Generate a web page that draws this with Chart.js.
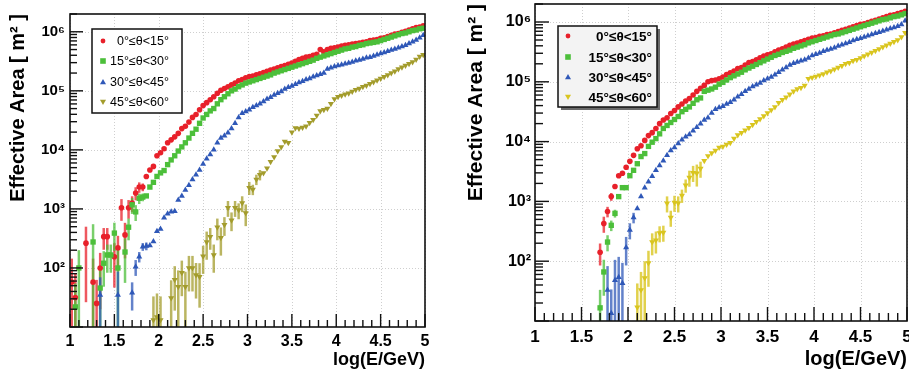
<!DOCTYPE html>
<html>
<head>
<meta charset="utf-8">
<script src="https://cdn.jsdelivr.net/npm/chart.js@4.4.1/dist/chart.umd.min.js"></script>
<style>
html, body { margin: 0; padding: 0; background: #fff; }
#wrap { position: relative; width: 909px; height: 376px; overflow: hidden; }
.panel { position: absolute; top: 0; height: 376px; }
#pl { left: 0; width: 440px; }
#pr { left: 455px; width: 454px; }
</style>
</head>
<body>
<div id="wrap">
  <div class="panel" id="pl"><canvas id="cl"></canvas></div>
  <div class="panel" id="pr"><canvas id="cr"></canvas></div>
</div>
<script>
// bin centres, log10(E/GeV)
const logE = [1.02,1.06,1.10,1.14,1.18,1.22,1.26,1.30,1.34,1.38,
  1.42,1.46,1.50,1.54,1.58,1.62,1.66,1.70,1.74,1.78,
  1.82,1.86,1.90,1.94,1.98,2.02,2.06,2.10,2.14,2.18,
  2.22,2.26,2.30,2.34,2.38,2.42,2.46,2.50,2.54,2.58,
  2.62,2.66,2.70,2.74,2.78,2.82,2.86,2.90,2.94,2.98,
  3.02,3.06,3.10,3.14,3.18,3.22,3.26,3.30,3.34,3.38,
  3.42,3.46,3.50,3.54,3.58,3.62,3.66,3.70,3.74,3.78,
  3.82,3.86,3.90,3.94,3.98,4.02,4.06,4.10,4.14,4.18,
  4.22,4.26,4.30,4.34,4.38,4.42,4.46,4.50,4.54,4.58,
  4.62,4.66,4.70,4.74,4.78,4.82,4.86,4.90,4.94,4.98];

const seriesNames = ['0°≤θ<15°', '15°≤θ<30°', '30°≤θ<45°', '45°≤θ<60°'];
const yDecades = [1e2, 1e3, 1e4, 1e5, 1e6];
const xTitle = 'log(E/GeV)';
const yTitle = 'Effective Area [ m² ]';

// ---- left panel: log10(effective area / m2) per bin (null = no point)
const leftRed = [1.76,1.50,null,null,2.42,null,1.76,1.40,2.00,2.53,
  2.53,null,2.19,2.34,3.02,2.56,3.02,3.10,3.27,3.37,
  3.37,3.55,3.66,3.72,3.90,3.95,4.02,4.12,4.17,4.22,
  4.28,4.36,4.40,4.47,4.55,4.60,4.68,4.75,4.80,4.85,
  4.90,4.96,5.01,5.04,5.07,5.10,5.13,5.17,5.19,5.22,
  5.24,5.25,5.27,5.29,5.31,5.33,5.35,5.37,5.39,5.41,
  5.43,5.45,5.47,5.50,5.53,5.55,5.57,5.58,5.60,5.62,
  5.70,5.66,5.70,5.72,5.73,5.74,5.76,5.77,5.78,5.79,
  5.80,5.81,5.82,5.83,5.85,5.86,5.87,5.89,5.90,5.92,
  5.94,5.96,5.97,5.99,6.01,6.03,6.05,6.07,6.08,6.10];
const leftGreen = [null,1.34,2.00,null,null,null,2.44,null,1.66,2.08,
  2.22,2.22,2.59,2.00,null,2.27,2.69,3.07,2.95,3.18,
  3.20,3.22,3.37,3.45,3.55,3.61,3.65,3.75,3.83,3.90,
  3.98,4.05,4.12,4.20,4.28,4.35,4.45,4.54,4.60,4.66,
  4.70,4.78,4.85,4.90,4.95,5.00,5.03,5.07,5.10,5.13,
  5.15,5.17,5.19,5.21,5.23,5.25,5.27,5.30,5.32,5.34,
  5.36,5.38,5.40,5.42,5.44,5.46,5.48,5.50,5.52,5.55,
  5.57,5.59,5.61,5.63,5.65,5.67,5.69,5.71,5.72,5.74,
  5.75,5.77,5.78,5.80,5.81,5.82,5.83,5.85,5.87,5.89,
  5.91,5.93,5.95,5.97,5.98,6.00,6.02,6.03,6.05,6.06];
const leftBlue = [null,null,null,null,null,null,null,null,1.54,null,
  null,null,null,1.54,null,null,null,1.58,2.02,2.19,
  2.36,2.37,2.38,2.45,2.62,2.66,2.85,2.92,2.95,2.96,
  3.15,3.22,3.32,3.40,3.50,3.58,3.66,3.76,3.85,3.92,
  4.00,4.12,4.20,4.24,4.29,4.36,4.45,4.55,4.62,4.65,
  4.68,4.72,4.75,4.78,4.82,4.86,4.89,4.93,4.96,4.99,
  5.03,5.06,5.08,5.11,5.14,5.16,5.19,5.21,5.24,5.26,
  5.28,5.30,5.37,5.39,5.41,5.43,5.44,5.46,5.47,5.49,
  5.51,5.52,5.54,5.56,5.57,5.59,5.61,5.63,5.65,5.67,
  5.69,5.71,5.73,5.75,5.77,5.80,5.83,5.86,5.90,5.94];
const leftYellow = [null,null,null,null,null,null,null,null,null,null,
  null,null,null,null,null,null,null,null,null,null,
  null,null,null,1.12,1.17,1.12,null,null,1.49,1.80,
  1.68,1.92,1.68,2.00,2.00,1.88,1.85,2.20,2.44,2.53,
  2.22,2.69,2.51,2.73,3.02,2.81,3.02,2.98,3.10,2.93,
  3.36,3.33,3.50,3.58,3.61,3.69,3.80,3.88,3.98,4.05,
  4.14,4.12,4.30,4.37,4.36,4.38,4.40,4.46,4.51,4.58,
  4.66,4.68,4.70,4.78,4.86,4.90,4.92,4.94,4.96,4.99,
  5.02,5.04,5.07,5.09,5.12,5.15,5.18,5.21,5.24,5.27,
  5.30,5.33,5.37,5.40,5.43,5.46,5.49,5.53,5.58,5.61];
// relative errors (leading bins only)
const leftRedErr = [1.5,1.5,0,0,0.9,0,1.5,1.5,0.8,0.4,
  0.4,0,0.7,0.6,0.4,0.6,0.35,0.3,0.25,0.2, 0.15];
const leftGreenErr = [0,1.5,1.0,0,0,0,1.0,0,1.2,0.6,
  0.5,0.5,0.5,1.0,0,0.7,0.4,0.3,0.3,0.2, 0.15];
const leftBlueErr = [0,0,0,0,0,0,0,0,1.0,0,
  0,0,0,1.5,0,0,0,0.5,0.3,0.2, 0.15,0.15];
const leftYellowErr = [0,0,0,0,0,0,0,0,0,0, 0,0,0,0,0,0,0,0,0,0,
  0,0,0,1.5,1.5,1.5,0,0,1.0,0.7,
  0.9,0.6,0.8,0.6,0.6,0.6,0.7,0.5,0.5,0.4,
  0.5,0.4,0.5,0.35,0.3,0.35,0.3,0.3,0.3,0.4,
  0.25,0.2,0.2,0.2];

// ---- right panel
const rightRed = [null,null,null,null,null,null,null,null,null,null,
  null,null,null,null,null,null,null,2.15,2.63,2.83,
  3.08,3.25,3.43,3.47,3.57,3.67,3.77,3.88,3.93,4.02,
  4.10,4.15,4.22,4.30,4.36,4.40,4.47,4.52,4.58,4.63,
  4.68,4.72,4.78,4.84,4.89,4.94,5.00,5.02,5.03,5.05,
  5.08,5.12,5.15,5.18,5.22,5.24,5.28,5.32,5.34,5.37,
  5.40,5.43,5.45,5.47,5.50,5.53,5.55,5.58,5.61,5.63,
  5.65,5.67,5.69,5.71,5.73,5.74,5.76,5.77,5.79,5.80,
  5.82,5.84,5.86,5.88,5.90,5.92,5.94,5.96,5.97,5.99,
  6.01,6.03,6.05,6.07,6.09,6.11,6.12,6.14,6.16,6.18];
const rightGreen = [null,null,null,null,null,null,null,null,null,null,
  null,null,null,null,null,null,null,1.22,1.82,2.32,
  2.60,2.80,3.08,3.23,3.23,3.43,3.52,3.63,3.75,3.80,
  3.92,3.99,4.05,4.13,4.22,4.27,4.32,4.37,4.42,4.50,
  4.54,4.58,4.64,4.70,4.73,4.84,4.86,4.88,4.91,4.96,
  4.99,5.03,5.07,5.10,5.13,5.16,5.20,5.23,5.26,5.29,
  5.32,5.35,5.38,5.41,5.44,5.46,5.49,5.51,5.53,5.56,
  5.58,5.60,5.62,5.65,5.67,5.69,5.71,5.73,5.75,5.77,
  5.79,5.80,5.82,5.84,5.86,5.88,5.90,5.92,5.94,5.96,
  5.98,6.00,6.02,6.04,6.05,6.07,6.09,6.10,6.12,6.14];
const rightBlue = [null,null,null,null,null,null,null,null,null,null,
  null,null,null,null,null,null,null,null,null,1.52,
  1.13,1.68,1.73,1.63,2.23,2.52,2.73,2.88,3.08,3.23,
  3.33,3.42,3.52,3.60,3.68,3.77,3.85,3.90,3.97,4.03,
  4.08,4.12,4.18,4.24,4.30,4.36,4.40,4.48,4.54,4.57,
  4.59,4.63,4.66,4.70,4.75,4.79,4.84,4.88,4.92,4.95,
  4.98,5.02,5.05,5.08,5.12,5.16,5.20,5.24,5.28,5.31,
  5.33,5.35,5.37,5.40,5.44,5.46,5.48,5.51,5.53,5.55,
  5.57,5.60,5.62,5.64,5.66,5.69,5.71,5.73,5.75,5.77,
  5.79,5.81,5.83,5.85,5.87,5.89,5.91,5.93,5.96,6.02];
const rightYellow = [null,null,null,null,null,null,null,null,null,null,
  null,null,null,null,null,null,null,null,null,null,
  null,null,null,null,null,null,null,1.23,1.52,1.72,
  1.97,2.32,2.35,2.47,2.48,2.97,2.73,2.98,2.97,3.10,
  3.27,3.40,3.48,3.47,3.55,3.68,3.76,3.81,3.85,3.90,
  3.92,3.95,3.98,4.05,4.11,4.15,4.19,4.23,4.28,4.33,
  4.38,4.43,4.48,4.53,4.58,4.65,4.70,4.74,4.79,4.84,
  4.88,4.90,4.94,5.05,5.07,5.09,5.11,5.13,5.16,5.18,
  5.21,5.24,5.27,5.30,5.32,5.35,5.37,5.40,5.43,5.46,
  5.49,5.52,5.55,5.58,5.61,5.64,5.67,5.70,5.75,5.82];
const rightRedErr = [0,0,0,0,0,0,0,0,0,0, 0,0,0,0,0,0,0,0.4,0.3,0.2, 0.15];
const rightGreenErr = [0,0,0,0,0,0,0,0,0,0, 0,0,0,0,0,0,0,1.0,0.6,0.3, 0.2,0.15];
const rightBlueErr = [0,0,0,0,0,0,0,0,0,0, 0,0,0,0,0,0,0,0,0,1.5,
  1.5,1.2,1.2,1.2,0.5,0.3,0.2];
const rightYellowErr = [0,0,0,0,0,0,0,0,0,0, 0,0,0,0,0,0,0,0,0,0,
  0,0,0,0,0,0,0,1.5,1.0,0.9,
  0.6,0.4,0.4,0.3,0.3,0.3,0.3,0.3,0.3,0.25,
  0.25,0.3,0.3,0.4,0.3];

const FONT = '"Liberation Sans", Arial, sans-serif';
const sup = {1: '¹', 2: '²', 3: '³', 4: '⁴', 5: '⁵', 6: '⁶'};

function toPoints(logs, errs) {
  const pts = [];
  logs.forEach((v, i) => {
    if (v === null) return;
    pts.push({x: logE[i], y: Math.pow(10, v), e: errs[i] || 0});
  });
  return pts;
}

function makeSets(list, sizes) {
  const styles = ['circle', 'rect', 'triangle', 'triangleDown'];
  return list.map((s, i) => ({
    label: seriesNames[i],
    data: toPoints(s.logs, s.errs),
    mark: styles[i],
    pointStyle: styles[i] === 'triangleDown' ? 'triangle' : styles[i],
    rotation: styles[i] === 'triangleDown' ? 180 : 0,
    pointRadius: sizes[i],
    pointHoverRadius: sizes[i],
    pointBorderWidth: 0,
    backgroundColor: s.color,
    borderColor: s.color,
    errColor: s.errColor,
    showLine: false,
    order: 4 - i,
  }));
}

function marker(ctx, style, cx, cy, r, color) {
  ctx.fillStyle = color;
  ctx.beginPath();
  if (style === 'circle') {
    ctx.arc(cx, cy, r, 0, 2 * Math.PI);
  } else if (style === 'rect') {
    ctx.rect(cx - r, cy - r, 2 * r, 2 * r);
  } else {
    const s = style === 'triangle' ? 1 : -1;
    ctx.moveTo(cx, cy - s * r);
    ctx.lineTo(cx + r, cy + s * r * 0.75);
    ctx.lineTo(cx - r, cy + s * r * 0.75);
    ctx.closePath();
  }
  ctx.fill();
}

// ROOT-like frame: dotted grid, error bars, inner ticks, boxed legend
const rootFrame = {
  id: 'rootFrame',
  beforeDatasetsDraw(chart, args, o) {
    const {ctx, chartArea: a, scales: {x, y}} = chart;
    ctx.save();
    ctx.strokeStyle = '#cfcfcf';
    ctx.lineWidth = 1;
    ctx.setLineDash([1, 2]);
    x.ticks.forEach(t => {
      const px = Math.round(x.getPixelForValue(t.value)) + 0.5;
      ctx.beginPath(); ctx.moveTo(px, a.top); ctx.lineTo(px, a.bottom); ctx.stroke();
    });
    y.ticks.forEach(t => {
      const py = Math.round(y.getPixelForValue(t.value)) + 0.5;
      ctx.beginPath(); ctx.moveTo(a.left, py); ctx.lineTo(a.right, py); ctx.stroke();
    });
    ctx.setLineDash([]);
    ctx.beginPath();
    ctx.rect(a.left, a.top, a.right - a.left, a.bottom - a.top);
    ctx.clip();
    chart.data.datasets.forEach(ds => {
      ctx.strokeStyle = ds.errColor;
      ctx.lineWidth = o.errWidth;
      ds.data.forEach(p => {
        if (!p.e) return;
        const px = x.getPixelForValue(p.x);
        const hi = y.getPixelForValue(p.y * (1 + p.e));
        const lo = p.e >= 1 ? a.bottom : y.getPixelForValue(p.y * (1 - p.e));
        ctx.beginPath(); ctx.moveTo(px, hi); ctx.lineTo(px, lo); ctx.stroke();
      });
    });
    ctx.restore();
  },
  afterDraw(chart, args, o) {
    const {ctx, chartArea: a, scales: {x, y}} = chart;
    ctx.save();
    ctx.strokeStyle = '#111';
    ctx.lineWidth = 1.6;
    ctx.strokeRect(a.left, a.top, a.right - a.left, a.bottom - a.top);
    // x ticks (inside, from the bottom)
    ctx.lineWidth = 1.4;
    x.ticks.forEach(t => {
      for (let m = 0; m < 5; m++) {
        const v = t.value + m * 0.1;
        if (v > x.max + 1e-9) break;
        const px = x.getPixelForValue(v);
        const len = m === 0 ? o.majorLen : o.minorLen;
        ctx.beginPath(); ctx.moveTo(px, a.bottom); ctx.lineTo(px, a.bottom - len); ctx.stroke();
      }
    });
    // y ticks (inside, from the left)
    for (let d = 1; d <= 6; d++) {
      for (let k = 1; k <= 9; k++) {
        const v = k * Math.pow(10, d);
        if (v > y.max) break;
        const py = y.getPixelForValue(v);
        const len = k === 1 ? o.majorLen : o.minorLen;
        ctx.beginPath(); ctx.moveTo(a.left, py); ctx.lineTo(a.left + len, py); ctx.stroke();
      }
    }
    // legend box
    const L = o.legend;
    if (L.shadow) {
      ctx.fillStyle = '#6a6a6a';
      ctx.fillRect(L.x + 3, L.y + 3, L.w, L.h);
    }
    ctx.fillStyle = L.bg;
    ctx.fillRect(L.x, L.y, L.w, L.h);
    ctx.strokeStyle = '#111';
    ctx.lineWidth = 1.5;
    ctx.strokeRect(L.x, L.y, L.w, L.h);
    ctx.font = L.font;
    ctx.textAlign = 'right';
    ctx.textBaseline = 'middle';
    chart.data.datasets.forEach((ds, i) => {
      marker(ctx, ds.mark, L.markX, L.rows[i], L.markR[i], ds.backgroundColor);
      ctx.fillStyle = '#000';
      ctx.fillText(ds.label, L.textRight, L.rows[i] + 1);
    });
    ctx.restore();
  }
};

function makeChart(id, p) {
  return new Chart(document.getElementById(id), {
    type: 'scatter',
    data: {datasets: p.sets},
    plugins: [rootFrame],
    options: {
      animation: false,
      responsive: true,
      maintainAspectRatio: false,
      events: [],
      layout: {padding: {left: 0, top: p.padTop, right: p.padRight, bottom: 0}, autoPadding: false},
      plugins: {
        legend: {display: false},
        tooltip: {enabled: false},
        rootFrame: {errWidth: p.errWidth, majorLen: p.majorLen, minorLen: p.minorLen, legend: p.legend},
      },
      scales: {
        x: {
          type: 'linear', min: 1, max: 5,
          afterFit: s => { s.height = p.xHeight; s.paddingLeft = 0; s.paddingRight = 0; },
          grid: {display: false, drawTicks: false},
          border: {display: false},
          ticks: {stepSize: 0.5, padding: p.xTickPad, color: '#000', maxRotation: 0,
            callback: v => String(Math.round(v * 10) / 10),
            font: {family: FONT, size: p.tickSize, weight: 'bold'}},
          title: {display: true, text: xTitle, align: 'end', color: '#000',
            font: {family: FONT, size: p.xTitleSize, weight: 'bold'},
            padding: {top: 0, bottom: p.xTitlePad}},
        },
        y: {
          type: 'logarithmic', min: 10, max: 2e6,
          afterFit: s => { s.width = p.yWidth; s.paddingTop = 0; s.paddingBottom = 0; },
          afterBuildTicks: s => { s.ticks = yDecades.map(v => ({value: v})); },
          grid: {display: false, drawTicks: false},
          border: {display: false},
          ticks: {padding: p.yTickPad, color: '#000', autoSkip: false,
            callback: v => '10' + sup[Math.round(Math.log10(v))],
            font: {family: FONT, size: p.yTickSize, weight: 'bold'}},
          title: {display: true, text: yTitle, align: 'end', color: '#000',
            font: {family: FONT, size: p.yTitleSize, weight: 'bold'},
            padding: {top: p.yTitlePad, bottom: 0}},
        },
      },
    },
  });
}

const red = '#e8202a', green = '#4cbf3a', blue = '#2f58b8';

makeChart('cl', {
  sets: makeSets([
    {logs: leftRed, errs: leftRedErr, color: red, errColor: 'rgba(232,32,42,0.75)'},
    {logs: leftGreen, errs: leftGreenErr, color: green, errColor: 'rgba(76,191,58,0.75)'},
    {logs: leftBlue, errs: leftBlueErr, color: blue, errColor: 'rgba(47,88,184,0.75)'},
    {logs: leftYellow, errs: leftYellowErr, color: '#a39c2c', errColor: 'rgba(163,156,44,0.75)'},
  ], [2.8, 3.8, 3.5, 3.5]),
  padTop: 14, padRight: 15, yWidth: 70, xHeight: 49,
  tickSize: 16, yTickSize: 15, xTickPad: 5, yTickPad: 5,
  xTitleSize: 18, xTitlePad: 5, yTitleSize: 20, yTitlePad: 6,
  errWidth: 2.5, majorLen: 13, minorLen: 7,
  legend: {x: 92, y: 29, w: 90, h: 84, markX: 103, textRight: 169,
    rows: [41, 61, 82, 102], markR: [2.4, 2.8, 3, 3],
    font: '12.5px ' + FONT, bg: '#ffffff', shadow: false},
});

makeChart('cr', {
  sets: makeSets([
    {logs: rightRed, errs: rightRedErr, color: red, errColor: 'rgba(232,32,42,0.75)'},
    {logs: rightGreen, errs: rightGreenErr, color: green, errColor: 'rgba(76,191,58,0.75)'},
    {logs: rightBlue, errs: rightBlueErr, color: blue, errColor: 'rgba(47,88,184,0.75)'},
    {logs: rightYellow, errs: rightYellowErr, color: '#d9c51f', errColor: 'rgba(217,197,31,0.8)'},
  ], [2.8, 3.8, 3.5, 3.5]),
  padTop: 4, padRight: 2, yWidth: 80, xHeight: 55,
  tickSize: 17, yTickSize: 16, xTickPad: 6, yTickPad: 4,
  xTitleSize: 20, xTitlePad: 5, yTitleSize: 21, yTitlePad: 9,
  errWidth: 2.5, majorLen: 14, minorLen: 8,
  legend: {x: 103, y: 26, w: 99, h: 81, markX: 113, textRight: 197,
    rows: [36, 57, 77, 97], markR: [2.4, 2.8, 3, 3],
    font: 'bold 13.5px ' + FONT, bg: '#f3f3f3', shadow: true},
});
</script>
</body>
</html>
